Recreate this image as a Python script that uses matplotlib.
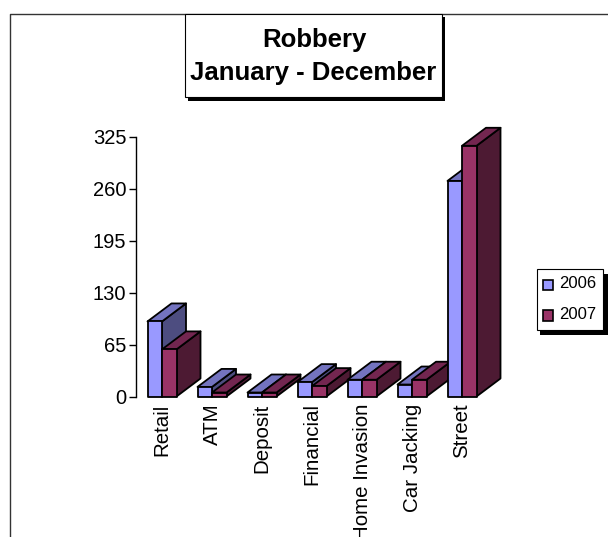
import matplotlib
matplotlib.use("Agg")
import matplotlib.pyplot as plt
from matplotlib.patches import Polygon, Rectangle

plt.rcParams['font.family'] = ['Liberation Sans', 'DejaVu Sans']

categories = ["Retail", "ATM", "Deposit", "Financial", "Home Invasion", "Car Jacking", "Street"]
values_2006 = [94, 12, 5, 18, 21, 15, 270]
values_2007 = [59, 5, 5, 13, 21, 21, 314]
y_ticks = [0, 65, 130, 195, 260, 325]
series_names = ["2006", "2007"]

W, H = 608, 537
fig = plt.figure(figsize=(W / 100, H / 100), dpi=100, facecolor="white")


def px_box(l, t, r, b):
    return [l / W, 1 - b / H, (r - l) / W, (b - t) / H]


def add_px_rect(l, t, r, b, fc, ec="none", lw=0.0, z=5):
    fig.add_artist(Rectangle((l / W, 1 - b / H), (r - l) / W, (b - t) / H,
                             transform=fig.transFigure, facecolor=fc,
                             edgecolor=ec, linewidth=lw, zorder=z))


# chart-area border (left and top only are visible)
fig.add_artist(plt.Line2D([9.5 / W, 9.5 / W, 1], [0, 1 - 13.5 / H, 1 - 13.5 / H],
                          transform=fig.transFigure, color="#333333", lw=1.0, zorder=1))

ax = fig.add_axes(px_box(136, 137, 536, 396.5), facecolor="none")
PX_X = 50.0
PX_Y = 259.5 / 325
ax.set_xlim((136 - 162) / PX_X, (536 - 162) / PX_X)
ax.set_ylim(0, 325)

BAR_W = 14.5 / PX_X
DX = 24 / PX_X
DY = 18 / PX_Y

styles = [("#9999FF", "#7373BF", "#4D4D80"), ("#993366", "#732650", "#4D1A33")]


def bar3d(x0, v, cols, z):
    x1 = x0 + BAR_W
    kw = dict(edgecolor="black", linewidth=1.3, joinstyle="round", clip_on=False, zorder=z)
    ax.add_patch(Polygon([(x1, 0), (x1 + DX, DY), (x1 + DX, v + DY), (x1, v)], facecolor=cols[2], **kw))
    ax.add_patch(Polygon([(x0, v), (x1, v), (x1 + DX, v + DY), (x0 + DX, v + DY)], facecolor=cols[1], **kw))
    ax.add_patch(Polygon([(x0, 0), (x1, 0), (x1, v), (x0, v)], facecolor=cols[0], **kw))


z = 3
for i in range(len(categories)):
    for k, vals in enumerate((values_2006, values_2007)):
        bar3d(i - BAR_W + k * BAR_W, vals[i], styles[k], z)
        z += 1

for s in ("top", "right", "bottom"):
    ax.spines[s].set_visible(False)
ax.spines["left"].set_linewidth(1.0)
ax.set_yticks(y_ticks)
ax.set_yticklabels([str(t) for t in y_ticks], fontsize=14.5)
ax.tick_params(axis="y", length=5, width=1.0, pad=2)
ax.set_xticks(range(len(categories)))
ax.set_xticklabels(categories, rotation=90, fontsize=14.8, va="top", ha="center")
ax.tick_params(axis="x", length=0, pad=5)

# title box
add_px_rect(188, 17, 445, 101, "black", z=5)
add_px_rect(184.5, 13.5, 441.5, 97, "white", "black", 0.8, z=6)
fig.text(314 / W, 1 - 39.5 / H, "Robbery", fontsize=18.5, fontweight="bold",
         ha="center", va="center", zorder=7)
fig.text(313.5 / W, 1 - 73 / H, "January - December", fontsize=18.5, fontweight="bold",
         ha="center", va="center", zorder=7)

# legend box
add_px_rect(540, 274, 608, 334.5, "black", z=5)
add_px_rect(536.5, 269, 602.5, 329.5, "white", "black", 0.8, z=6)
for name, cols, top in zip(series_names, styles, (279.5, 310)):
    add_px_rect(543, top, 553, top + 10.5, cols[0], "black", 1.2, z=7)
    fig.text(559 / W, 1 - (top + 4.5) / H, name, fontsize=12, ha="left", va="center", zorder=7)

fig.savefig("out.png", dpi=100, facecolor="white")
